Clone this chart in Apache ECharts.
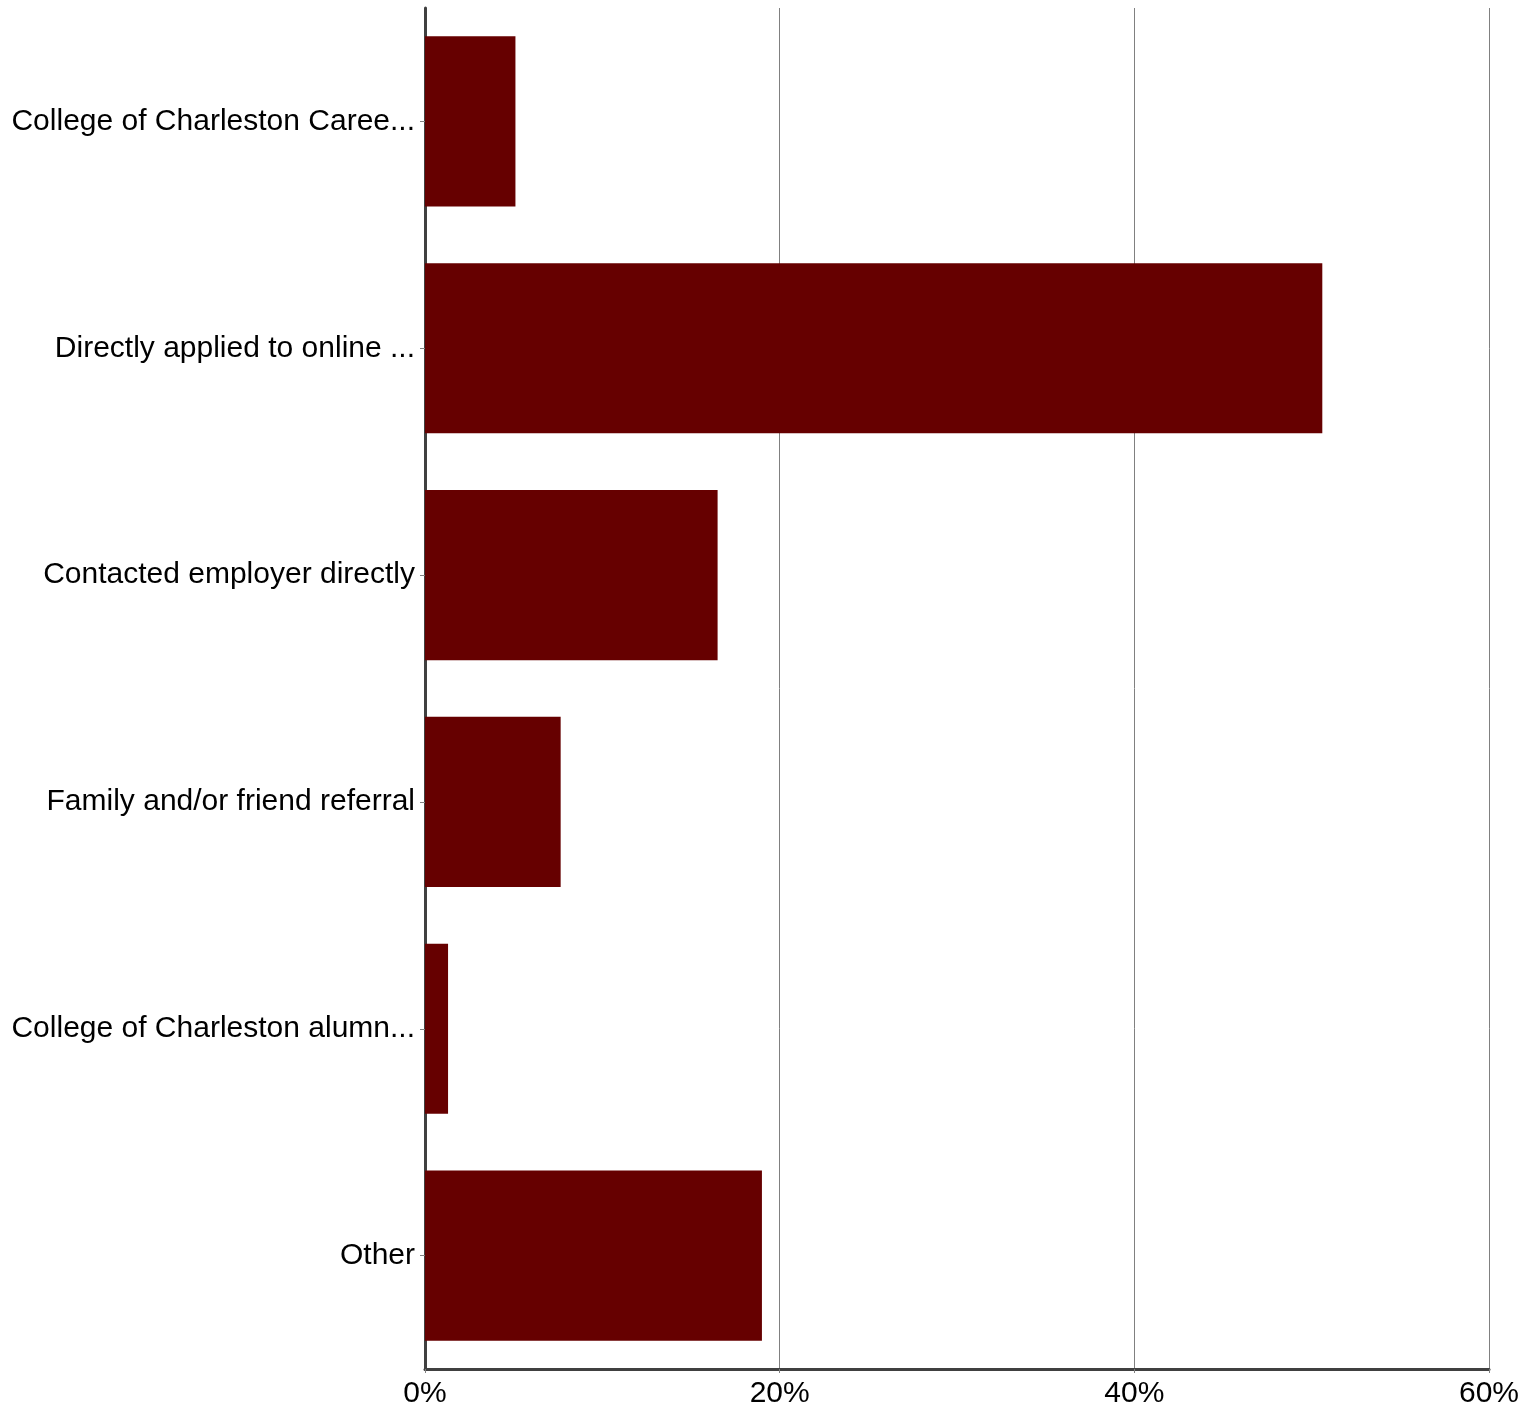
<!DOCTYPE html>
<html><head><meta charset="utf-8">
<script src="https://cdn.jsdelivr.net/npm/echarts@6/dist/echarts.min.js"></script>
<style>html,body{margin:0;padding:0;background:#fff}#c{width:1536px;height:1410px}</style>
</head><body><div id="c"></div>
<script>
const categories = ["College of Charleston Caree...", "Directly applied to online ...", "Contacted employer directly", "Family and/or friend referral", "College of Charleston alumn...", "Other"];
const values = [5.1, 50.6, 16.5, 7.65, 1.3, 19.0];
const xTicks = [0, 20, 40, 60];

const chart = echarts.init(document.getElementById('c'), null, {renderer: 'canvas'});
chart.setOption({
  animation: false,
  grid: {left: 425, right: 47, top: 8, bottom: 41, containLabel: false},
  xAxis: {
    type: 'value', min: xTicks[0], max: xTicks[xTicks.length - 1], interval: 20,
    axisLine: {show: true, lineStyle: {color: '#404040', width: 3}},
    axisTick: {show: true, length: 4, lineStyle: {color: '#808080'}},
    axisLabel: {formatter: v => v + '%', fontFamily: 'Liberation Sans, Arial, sans-serif', fontSize: 30, color: '#000', margin: 10},
    splitLine: {show: true, lineStyle: {color: '#808080', width: 1}}
  },
  yAxis: {
    type: 'category', inverse: true, data: categories,
    axisLine: {show: true, lineStyle: {color: '#404040', width: 3}},
    axisTick: {show: true, length: 5, alignWithLabel: true, lineStyle: {color: '#808080'}},
    axisLabel: {fontFamily: 'Liberation Sans, Arial, sans-serif', fontSize: 30, color: '#000', margin: 10, padding: [5, 0, 0, 0]},
    splitLine: {show: false}
  },
  series: [{
    type: 'bar', data: values, barCategoryGap: '25%',
    itemStyle: {color: '#660000'}
  }]
});
</script></body></html>
